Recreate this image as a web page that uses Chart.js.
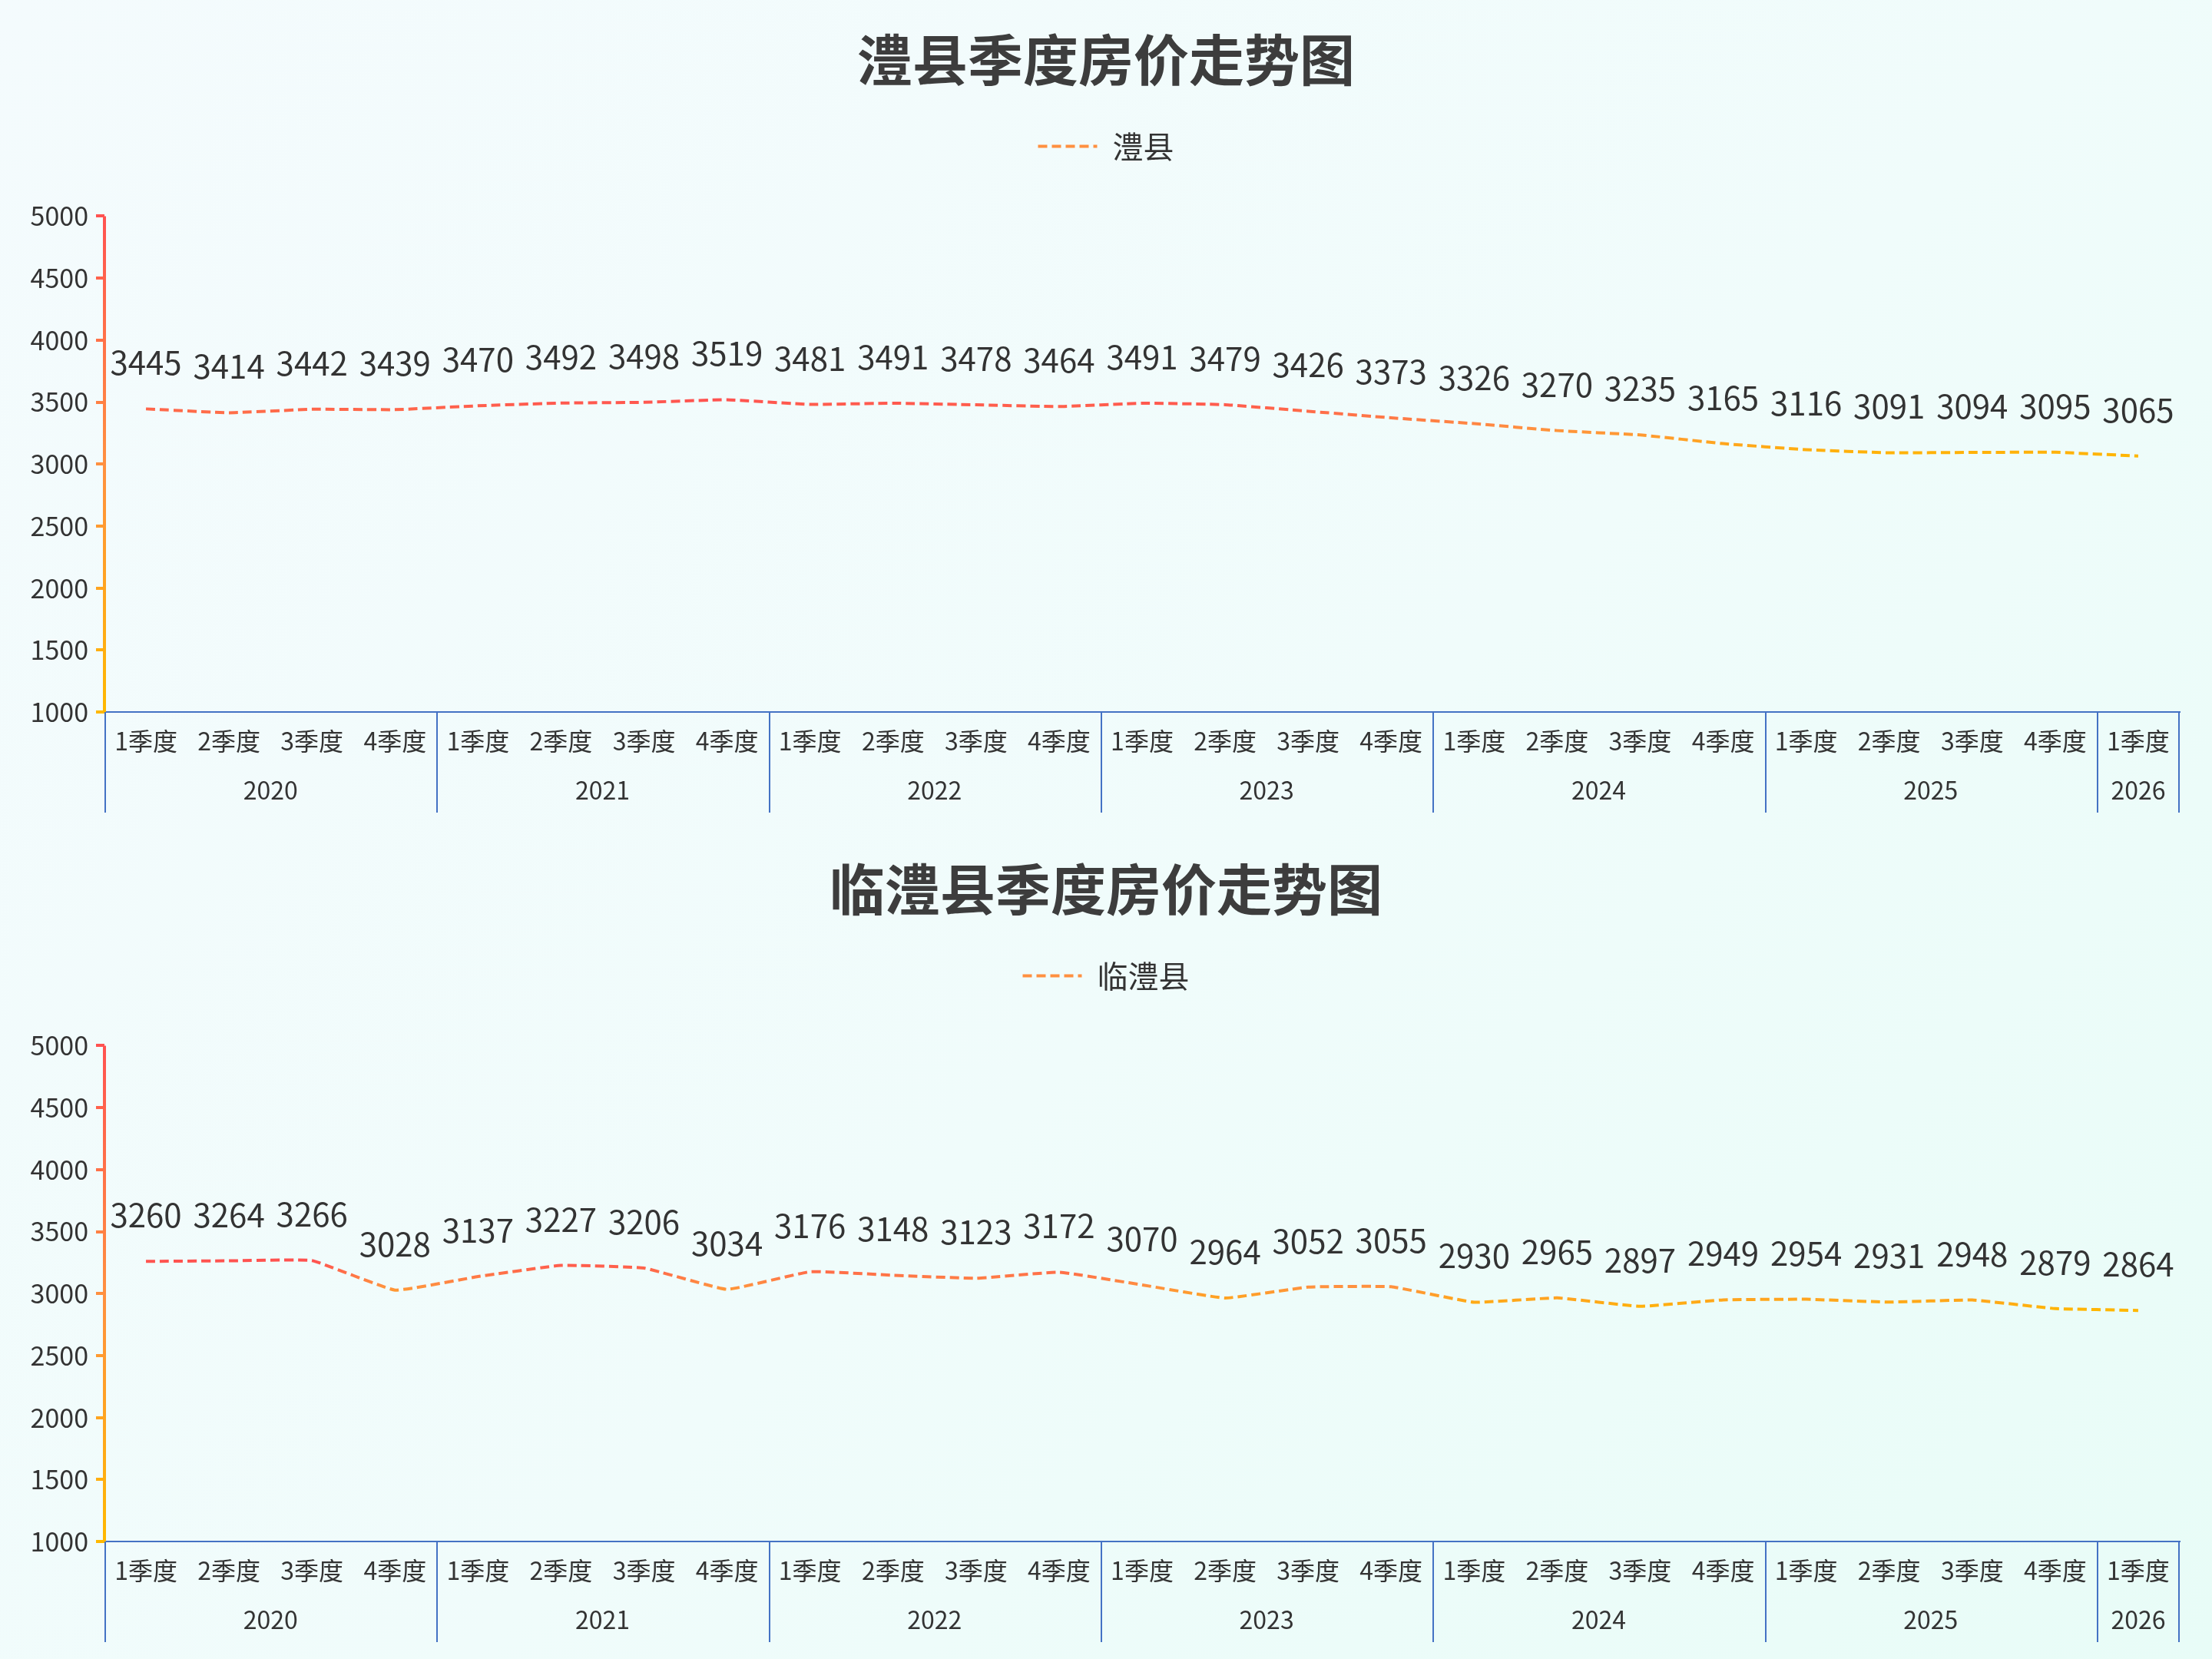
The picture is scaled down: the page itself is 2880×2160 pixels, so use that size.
<!DOCTYPE html>
<html lang="zh-CN">
<head>
    <meta charset="UTF-8">
    <title>季度房价走势图</title>
    <script src="https://cdn.jsdelivr.net/npm/chart.js"></script>
    <style>
        html, body { margin: 0; padding: 0; }
        body {
            width: 2880px;
            height: 2160px;
            background: linear-gradient(135deg, #f4fbfd 0%, #f0fcfb 55%, #e8fcf7 100%);
        }
        .box { width: 2880px; height: 1080px; position: relative; }
    </style>
</head>
<body>
    <div class="box"><canvas id="chartLixian"></canvas></div>
    <div class="box"><canvas id="chartLinli"></canvas></div>
<script>
    // x axis: quarter labels and the year each point belongs to
    const quarterLabels = [
        '1季度', '2季度', '3季度', '4季度',
        '1季度', '2季度', '3季度', '4季度',
        '1季度', '2季度', '3季度', '4季度',
        '1季度', '2季度', '3季度', '4季度',
        '1季度', '2季度', '3季度', '4季度',
        '1季度', '2季度', '3季度', '4季度',
        '1季度'
    ];
    const pointYears = [
        '2020', '2020', '2020', '2020',
        '2021', '2021', '2021', '2021',
        '2022', '2022', '2022', '2022',
        '2023', '2023', '2023', '2023',
        '2024', '2024', '2024', '2024',
        '2025', '2025', '2025', '2025',
        '2026'
    ];

    // prices (元/平方米)
    const lixianPrices = [3445, 3414, 3442, 3439, 3470, 3492, 3498, 3519, 3481, 3491, 3478, 3464,
                          3491, 3479, 3426, 3373, 3326, 3270, 3235, 3165, 3116, 3091, 3094, 3095, 3065];
    const linliPrices = [3260, 3264, 3266, 3028, 3137, 3227, 3206, 3034, 3176, 3148, 3123, 3172,
                         3070, 2964, 3052, 3055, 2930, 2965, 2897, 2949, 2954, 2931, 2948, 2879, 2864];

    // y axis range
    const yMin = 1000;
    const yMax = 5000;
    const yStep = 500;

    const FONT = "'Noto Sans CJK SC', 'Noto Sans', sans-serif";
    const TEXT = '#333333';
    const BLUE = '#4472c4';
    const stops = [[0, [255, 82, 80]], [0.5, [255, 144, 64]], [1, [255, 184, 0]]];

    // colour along red -> orange -> yellow, t in [0,1]
    function colorAt(t) {
        t = Math.max(0, Math.min(1, t));
        for (let i = 1; i < stops.length; i++) {
            if (t <= stops[i][0]) {
                const a = stops[i - 1], b = stops[i];
                const k = (t - a[0]) / (b[0] - a[0]);
                const c = a[1].map((v, j) => Math.round(v + (b[1][j] - v) * k));
                return `rgb(${c[0]},${c[1]},${c[2]})`;
            }
        }
        return 'rgb(255,184,0)';
    }

    function fillStops(g) {
        stops.forEach(s => g.addColorStop(s[0], `rgb(${s[1].join(',')})`));
        return g;
    }

    // line colour: vertical gradient from highest value (red) to lowest (yellow)
    function lineGradient(context) {
        const chart = context.chart;
        if (!chart.chartArea) return 'rgb(255,144,64)';
        const data = context.dataset.data;
        const y = chart.scales.y;
        const top = y.getPixelForValue(Math.max(...data));
        const bottom = y.getPixelForValue(Math.min(...data));
        return fillStops(chart.ctx.createLinearGradient(0, top, 0, bottom + 1));
    }

    // more room between the legend and the plot
    const legendGap = {
        id: 'legendGap',
        beforeInit(chart) {
            const fit = chart.legend.fit;
            chart.legend.fit = function () {
                fit.call(this);
                this.height += 61;
            };
        }
    };

    // numbers above the points
    const valueLabels = {
        id: 'valueLabels',
        afterDatasetsDraw(chart) {
            const ctx = chart.ctx;
            ctx.save();
            ctx.font = `42px ${FONT}`;
            ctx.fillStyle = TEXT;
            ctx.textAlign = 'center';
            ctx.textBaseline = 'middle';
            chart.data.datasets.forEach((ds, i) => {
                chart.getDatasetMeta(i).data.forEach((pt, j) => {
                    ctx.fillText(ds.data[j], pt.x, pt.y - 60);
                });
            });
            ctx.restore();
        }
    };

    // gradient y axis line + year row with separators under the x axis
    const axisDecor = {
        id: 'axisDecor',
        afterDraw(chart) {
            const ctx = chart.ctx;
            const x = chart.scales.x;
            const y = chart.scales.y;
            ctx.save();

            // y axis line
            ctx.strokeStyle = fillStops(ctx.createLinearGradient(0, y.top, 0, y.bottom));
            ctx.lineWidth = 4;
            ctx.beginPath();
            ctx.moveTo(y.right, y.top);
            ctx.lineTo(y.right, y.bottom + 1);
            ctx.stroke();

            // year groups
            const edge = i => {
                if (i <= 0) return x.left;
                if (i >= pointYears.length) return x.right;
                return (x.getPixelForValue(i - 1) + x.getPixelForValue(i)) / 2;
            };
            ctx.strokeStyle = BLUE;
            ctx.lineWidth = 2;
            ctx.fillStyle = TEXT;
            ctx.font = `32px ${FONT}`;
            ctx.textAlign = 'center';
            ctx.textBaseline = 'middle';
            let start = 0;
            for (let i = 1; i <= pointYears.length; i++) {
                if (i === pointYears.length || pointYears[i] !== pointYears[start]) {
                    const x0 = edge(start), x1 = edge(i);
                    ctx.fillText(pointYears[start], (x0 + x1) / 2, x.top + 102);
                    start = i;
                }
            }
            for (let i = 0; i <= pointYears.length; i++) {
                if (i === 0 || i === pointYears.length || pointYears[i] !== pointYears[i - 1]) {
                    const px = Math.round(edge(i)) + (i === pointYears.length ? -1 : 1);
                    ctx.beginPath();
                    ctx.moveTo(px, x.top);
                    ctx.lineTo(px, x.top + 131);
                    ctx.stroke();
                }
            }
            ctx.restore();
        }
    };

    function makeChart(id, title, name, prices) {
        const ctx = document.getElementById(id).getContext('2d');
        return new Chart(ctx, {
            type: 'line',
            data: {
                labels: quarterLabels,
                datasets: [{
                    label: name,
                    data: prices,
                    borderColor: lineGradient,
                    borderWidth: 4,
                    borderDash: [12, 6],
                    pointRadius: 0,
                    pointHoverRadius: 0,
                    tension: 0.1,
                    fill: false
                }]
            },
            options: {
                responsive: true,
                maintainAspectRatio: false,
                animation: false,
                devicePixelRatio: 1,
                layout: { padding: 0 },
                plugins: {
                    title: {
                        display: true,
                        text: title,
                        color: '#3d3d3d',
                        font: { family: FONT, size: 72, weight: 'bold' },
                        padding: { top: 34, bottom: 40 }
                    },
                    legend: {
                        display: true,
                        labels: {
                            color: TEXT,
                            font: { family: FONT, size: 40 },
                            usePointStyle: true,
                            pointStyle: 'line',
                            pointStyleWidth: 77,
                            boxHeight: 10,
                            padding: 10,
                            generateLabels(chart) {
                                const items = Chart.defaults.plugins.legend.labels.generateLabels(chart);
                                items.forEach(it => {
                                    it.strokeStyle = 'rgb(255,144,64)';
                                    it.lineWidth = 4;
                                    it.lineDash = [12, 6];
                                    it.pointStyle = 'line';
                                });
                                return items;
                            }
                        }
                    },
                    tooltip: { enabled: false }
                },
                scales: {
                    x: {
                        offset: true,
                        grid: { display: false, drawTicks: false },
                        border: { display: true, color: BLUE, width: 2 },
                        ticks: {
                            color: TEXT,
                            font: { family: FONT, size: 32 },
                            padding: 19,
                            autoSkip: false,
                            maxRotation: 0
                        },
                        afterFit(scale) { scale.height = 153; }
                    },
                    y: {
                        min: yMin,
                        max: yMax,
                        grid: {
                            drawOnChartArea: false,
                            drawTicks: true,
                            tickLength: 11,
                            lineWidth: 4,
                            color: c => colorAt((yMax - c.tick.value) / (yMax - yMin))
                        },
                        border: { display: false },
                        ticks: {
                            stepSize: yStep,
                            color: TEXT,
                            font: { family: FONT, size: 34 },
                            padding: 10,
                            callback: v => String(v)
                        },
                        afterFit(scale) { scale.width = 136; }
                    },
                    // empty right-hand axis, only keeps a margin so the title stays centred
                    yRight: {
                        position: 'right',
                        min: yMin,
                        max: yMax,
                        grid: { display: false, drawTicks: false },
                        border: { display: false },
                        ticks: { display: false },
                        afterFit(scale) { scale.width = 42; }
                    }
                }
            },
            plugins: [legendGap, valueLabels, axisDecor]
        });
    }

    makeChart('chartLixian', '澧县季度房价走势图', '澧县', lixianPrices);
    makeChart('chartLinli', '临澧县季度房价走势图', '临澧县', linliPrices);
</script>
</body>
</html>
